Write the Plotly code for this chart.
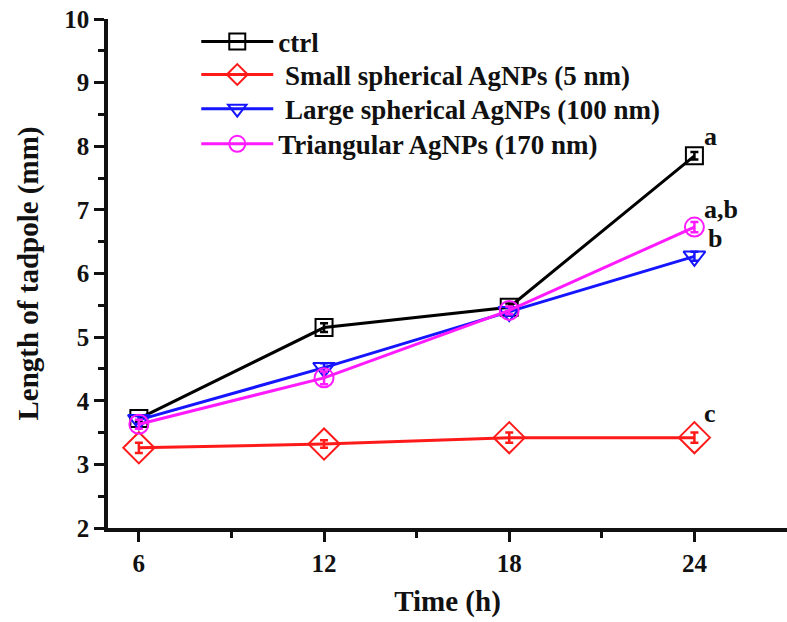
import plotly.graph_objects as go

time_h = [6, 12, 18, 24]
series_names = ["ctrl", " Small spherical AgNPs (5 nm)", " Large spherical AgNPs (100 nm)", "Triangular AgNPs (170 nm)"]
ctrl = [3.72, 5.15, 5.47, 7.85]
small = [3.26, 3.32, 3.42, 3.42]
large = [3.70, 4.52, 5.40, 6.27]
tri = [3.63, 4.36, 5.42, 6.73]
ctrl_err = [0.05, 0.07, 0.06, 0.06]
small_err = [0.08, 0.06, 0.08, 0.08]
large_err = [0.06, 0.07, 0.06, 0.07]
tri_err = [0.07, 0.1, 0.06, 0.08]
sig_labels = ["a", "a,b", "b", "c"]
sig_y = [8.15, 7.0, 6.55, 3.8]
sig_shift = [8, 8, 12, 8]

colors = ["#000000", "#ff1a1a", "#1515ff", "#ff1aff"]
symbols = ["square-open", "diamond-open", "triangle-down-open", "circle-open"]
sizes = [17, 24, 19, 19]
vals = [ctrl, small, large, tri]
errs = [ctrl_err, small_err, large_err, tri_err]
legend_ids = ["legend", "legend2", "legend3", "legend4"]
legend_y = [0.955, 0.890, 0.823, 0.754]

FONT = "Liberation Serif, Times New Roman, serif"

fig = go.Figure()
for name, v, e, c, s, sz, lg in zip(series_names, vals, errs, colors, symbols, sizes, legend_ids):
    fig.add_trace(go.Scatter(
        x=time_h, y=v, name=name, mode="lines+markers", legend=lg,
        line=dict(color=c, width=3),
        marker=dict(symbol=s, size=sz, color=c, line=dict(width=2, color=c)),
        error_y=dict(type="data", array=e, visible=True, color=c, thickness=2.5, width=4),
    ))

for lbl, yy, sh in zip(sig_labels, sig_y, sig_shift):
    fig.add_annotation(x=24, y=yy, text=lbl, showarrow=False, xanchor="left", xshift=sh,
                       font=dict(family=FONT, size=26, color="#111", weight="bold"))

legends = {}
for lg, ly in zip(legend_ids, legend_y):
    legends[lg] = dict(x=0.13, y=ly, xanchor="left", yanchor="middle", bgcolor="rgba(0,0,0,0)",
                       font=dict(family=FONT, size=27, color="#111", weight="bold"),
                       itemwidth=72)

fig.update_layout(
    width=787, height=622,
    margin=dict(l=108, r=0, t=19, b=94),
    plot_bgcolor="white", paper_bgcolor="white",
    font=dict(family=FONT, size=25, color="#111", weight="bold"),
    showlegend=True,
    **legends,
    xaxis=dict(range=[5, 27], tickvals=[6, 12, 18, 24], showgrid=False, zeroline=False,
               showline=True, linewidth=3.5, linecolor="#111", ticks="outside", ticklen=10,
               tickwidth=3, tickcolor="#111",
               minor=dict(tickvals=[9, 15, 21], ticks="outside", ticklen=6, tickwidth=3, tickcolor="#111"),
               title=dict(text="Time (h)", font=dict(family=FONT, size=29, weight="bold"), standoff=16),
               tickfont=dict(family=FONT, size=25, weight="bold")),
    yaxis=dict(range=[2, 10], dtick=1, showgrid=False, zeroline=False,
               showline=True, linewidth=3.5, linecolor="#111", ticks="outside", ticklen=10,
               tickwidth=3, tickcolor="#111",
               minor=dict(dtick=0.5, ticks="outside", ticklen=6, tickwidth=3, tickcolor="#111"),
               title=dict(text="Length of tadpole (mm)", font=dict(family=FONT, size=29, weight="bold"), standoff=18),
               tickfont=dict(family=FONT, size=25, weight="bold")),
)

fig.write_html("out.html")
